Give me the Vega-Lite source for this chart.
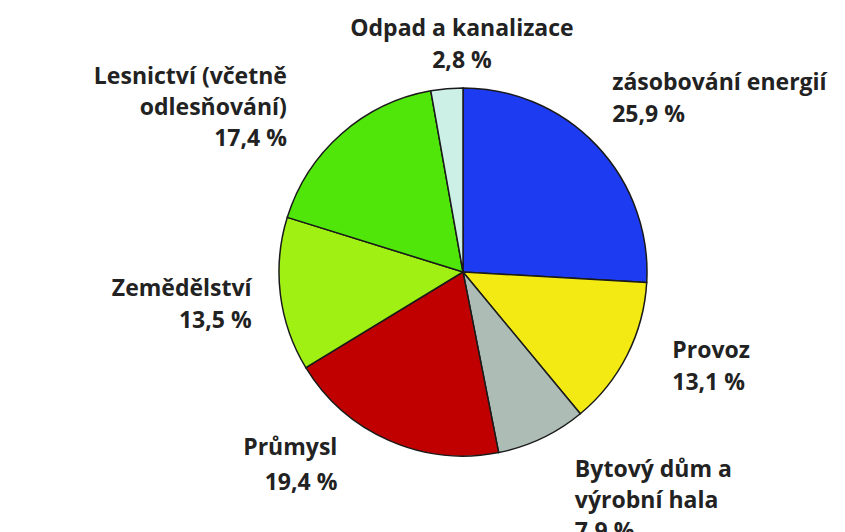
{
  "$schema": "https://vega.github.io/schema/vega-lite/v6.json",
  "autosize": "none",
  "width": 764,
  "height": 520,
  "padding": {"left": 81, "top": 12, "right": 0, "bottom": 0},
  "background": "white",
  "config": {"view": {"stroke": null}},
  "data": {
    "values": [
      {"idx": 1, "cat": "zásobování energií", "value": 25.9, "label": "zásobování energií\n25,9 %"},
      {"idx": 2, "cat": "Provoz", "value": 13.1, "label": "Provoz\n13,1 %"},
      {"idx": 3, "cat": "Bytový dům a výrobní hala", "value": 7.9, "label": "Bytový dům a\nvýrobní hala\n7,9 %"},
      {"idx": 4, "cat": "Průmysl", "value": 19.4, "label": "Průmysl\n19,4 %"},
      {"idx": 5, "cat": "Zemědělství", "value": 13.5, "label": "Zemědělství\n13,5 %"},
      {"idx": 6, "cat": "Lesnictví (včetně odlesňování)", "value": 17.4, "label": "Lesnictví (včetně\nodlesňování)\n17,4 %"},
      {"idx": 7, "cat": "Odpad a kanalizace", "value": 2.8, "label": "Odpad a  kanalizace\n2,8 %"}
    ]
  },
  "transform": [
    {"stack": "value", "groupby": [], "sort": [{"field": "idx", "order": "ascending"}], "as": ["v0", "v1"]},
    {"calculate": "(datum.v0 + datum.v1) / 2", "as": "mid"}
  ],
  "layer": [
    {
      "mark": {"type": "arc", "radius": 184, "stroke": "#1a1a1a", "strokeWidth": 1.5},
      "encoding": {
        "theta": {"field": "v0", "type": "quantitative", "scale": {"domain": [0, 100]}},
        "theta2": {"field": "v1"},
        "color": {
          "field": "cat", "type": "nominal", "legend": null,
          "scale": {
            "domain": ["zásobování energií", "Provoz", "Bytový dům a výrobní hala", "Průmysl", "Zemědělství", "Lesnictví (včetně odlesňování)", "Odpad a kanalizace"],
            "range": ["#1d3cf2", "#f2ea12", "#adbdb5", "#c00000", "#a0f014", "#50e60a", "#cdf0e6"]
          }
        }
      }
    },
    {
      "transform": [{"filter": "datum.idx == 1"}],
      "mark": {"type": "text", "radius": 230, "align": "left", "baseline": "middle", "dx": -18, "dy": -31, "font": "Open Sans", "fontSize": 23, "fontWeight": "bold", "lineHeight": 32, "color": "#222222", "lineBreak": "\n"},
      "encoding": {"theta": {"field": "mid", "type": "quantitative"}, "text": {"field": "label"}}
    },
    {
      "transform": [{"filter": "datum.idx == 2"}],
      "mark": {"type": "text", "radius": 230, "align": "left", "baseline": "middle", "dx": 4, "dy": -25, "font": "Open Sans", "fontSize": 23, "fontWeight": "bold", "lineHeight": 32, "color": "#222222", "lineBreak": "\n"},
      "encoding": {"theta": {"field": "mid", "type": "quantitative"}, "text": {"field": "label"}}
    },
    {
      "transform": [{"filter": "datum.idx == 3"}],
      "mark": {"type": "text", "radius": 240, "align": "left", "baseline": "middle", "dx": 9, "dy": -19, "font": "Open Sans", "fontSize": 23, "fontWeight": "bold", "lineHeight": 31, "color": "#222222", "lineBreak": "\n"},
      "encoding": {"theta": {"field": "mid", "type": "quantitative"}, "text": {"field": "label"}}
    },
    {
      "transform": [{"filter": "datum.idx == 4"}],
      "mark": {"type": "text", "radius": 220, "align": "right", "baseline": "middle", "dx": -37, "dy": -25, "font": "Open Sans", "fontSize": 23, "fontWeight": "bold", "lineHeight": 35, "color": "#222222", "lineBreak": "\n"},
      "encoding": {"theta": {"field": "mid", "type": "quantitative"}, "text": {"field": "label"}}
    },
    {
      "transform": [{"filter": "datum.idx == 5"}],
      "mark": {"type": "text", "radius": 215, "align": "right", "baseline": "middle", "dx": 2, "dy": -9, "font": "Open Sans", "fontSize": 23, "fontWeight": "bold", "lineHeight": 32, "color": "#222222", "lineBreak": "\n"},
      "encoding": {"theta": {"field": "mid", "type": "quantitative"}, "text": {"field": "label"}}
    },
    {
      "transform": [{"filter": "datum.idx == 6"}],
      "mark": {"type": "text", "radius": 230, "align": "right", "baseline": "middle", "dx": -24, "dy": -22, "font": "Open Sans", "fontSize": 23, "fontWeight": "bold", "lineHeight": 31, "color": "#222222", "lineBreak": "\n"},
      "encoding": {"theta": {"field": "mid", "type": "quantitative"}, "text": {"field": "label"}}
    },
    {
      "transform": [{"filter": "datum.idx == 7"}],
      "mark": {"type": "text", "radius": 228, "align": "center", "baseline": "middle", "dx": 19, "dy": -16, "font": "Open Sans", "fontSize": 23, "fontWeight": "bold", "lineHeight": 32, "color": "#222222", "lineBreak": "\n"},
      "encoding": {"theta": {"field": "mid", "type": "quantitative"}, "text": {"field": "label"}}
    }
  ]
}
